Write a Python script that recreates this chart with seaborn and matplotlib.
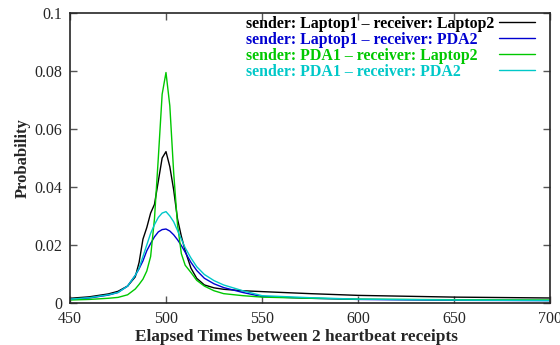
import numpy as np
import pandas as pd
import matplotlib
matplotlib.use("Agg")
import matplotlib.pyplot as plt
from matplotlib.ticker import FuncFormatter
import seaborn as sns

# elapsed time grid (ms)
elapsed = [450, 460, 470, 475, 480, 484, 486, 488, 490, 492, 494, 496, 498, 500,
           502, 504, 506, 508, 510, 513, 516, 520, 525, 530, 540, 550, 575, 600,
           650, 700]

laptop_laptop = [0.0016, 0.0021, 0.0031, 0.0040, 0.0058, 0.0090, 0.014, 0.022,
                 0.026, 0.031, 0.034, 0.042, 0.050, 0.0522, 0.047, 0.039, 0.029,
                 0.023, 0.018, 0.012, 0.0085, 0.0062, 0.0052, 0.0047, 0.0042,
                 0.0039, 0.0032, 0.0026, 0.0020, 0.0017]
laptop_pda = [0.0012, 0.0017, 0.0027, 0.0036, 0.0058, 0.0095, 0.0118, 0.0145,
              0.018, 0.0205, 0.0228, 0.0245, 0.0253, 0.0255, 0.0248, 0.0235,
              0.0218, 0.0198, 0.0175, 0.014, 0.0112, 0.0085, 0.0066, 0.0053,
              0.0036, 0.0022, 0.0016, 0.0012, 0.0009, 0.0008]
pda_laptop = [0.0010, 0.0012, 0.0016, 0.0019, 0.0028, 0.0048, 0.0064, 0.0082,
              0.011, 0.016, 0.029, 0.050, 0.072, 0.0795, 0.068, 0.045, 0.027,
              0.017, 0.013, 0.0105, 0.0078, 0.0058, 0.0042, 0.0032, 0.0025,
              0.0020, 0.0016, 0.0013, 0.0011, 0.0010]
pda_pda = [0.0013, 0.0018, 0.0028, 0.0036, 0.0058, 0.0095, 0.012, 0.016, 0.020,
           0.024, 0.027, 0.0295, 0.031, 0.0315, 0.030, 0.028, 0.025, 0.022,
           0.019, 0.0155, 0.0125, 0.0098, 0.0077, 0.0062, 0.0042, 0.0025,
           0.0018, 0.0013, 0.0010, 0.0008]

series_names = [
    "sender: Laptop1 \u2013 receiver: Laptop2",
    "sender: Laptop1 \u2013 receiver: PDA2",
    "sender: PDA1 \u2013 receiver: Laptop2",
    "sender: PDA1 \u2013 receiver: PDA2",
]
series_values = [laptop_laptop, laptop_pda, pda_laptop, pda_pda]
colors = ["#000000", "#0000d0", "#00c800", "#00c8c8"]

df = pd.concat(
    [pd.DataFrame({"elapsed": elapsed, "prob": vals, "pair": name})
     for name, vals in zip(series_names, series_values)],
    ignore_index=True,
)

sns.set_style("ticks")
plt.rcParams["font.family"] = ["Liberation Serif", "DejaVu Serif"]

fig = plt.figure(figsize=(5.6, 3.45), dpi=100)
ax = fig.add_axes([0.125, 0.122, 0.857, 0.840])

sns.lineplot(data=df, x="elapsed", y="prob", hue="pair", hue_order=series_names,
             palette=dict(zip(series_names, colors)), linewidth=1.0, ax=ax)

ax.set_xlim(450, 700)
ax.set_ylim(0, 0.1)
ax.set_xticks([450, 500, 550, 600, 650, 700])
ax.set_yticks([0, 0.02, 0.04, 0.06, 0.08, 0.1])
ax.yaxis.set_major_formatter(FuncFormatter(lambda v, p: f"{v:g}"))
ax.tick_params(direction="in", length=5, width=1, top=True, right=True,
               labelsize=11.5, color="#555555")
ax.tick_params(axis="x", pad=5.5)
ax.tick_params(axis="y", pad=5.5)
for s in ax.spines.values():
    s.set_linewidth(1.2)

ax.set_xlabel("Elapsed Times between 2 heartbeat receipts", fontsize=12.4,
              fontweight="bold")
ax.xaxis.set_label_coords(0.471, -0.09)
ax.set_ylabel("Probability", fontsize=12, fontweight="bold", labelpad=3)

leg = ax.legend(loc="upper right", bbox_to_anchor=(0.969, 0.99),
                frameon=False, markerfirst=False, borderpad=0,
                handlelength=2.3, handletextpad=0.3, labelspacing=0.0,
                borderaxespad=0, labelcolor="linecolor",
                prop={"weight": "bold", "size": 11.4})

# gnuplot-style key: text left-justified, line samples in one column
fig.canvas.draw()
renderer = fig.canvas.get_renderer()
column = leg._legend_handle_box.get_children()[0]
column.align = "left"
rows = column.get_children()
widths = [r.get_children()[0].get_window_extent(renderer).width for r in rows]
px_per_pt = fig.dpi / 72.0
for r, w in zip(rows, widths):
    r.sep = r.sep + (max(widths) - w) / px_per_pt

fig.savefig("out.png", dpi=100)
